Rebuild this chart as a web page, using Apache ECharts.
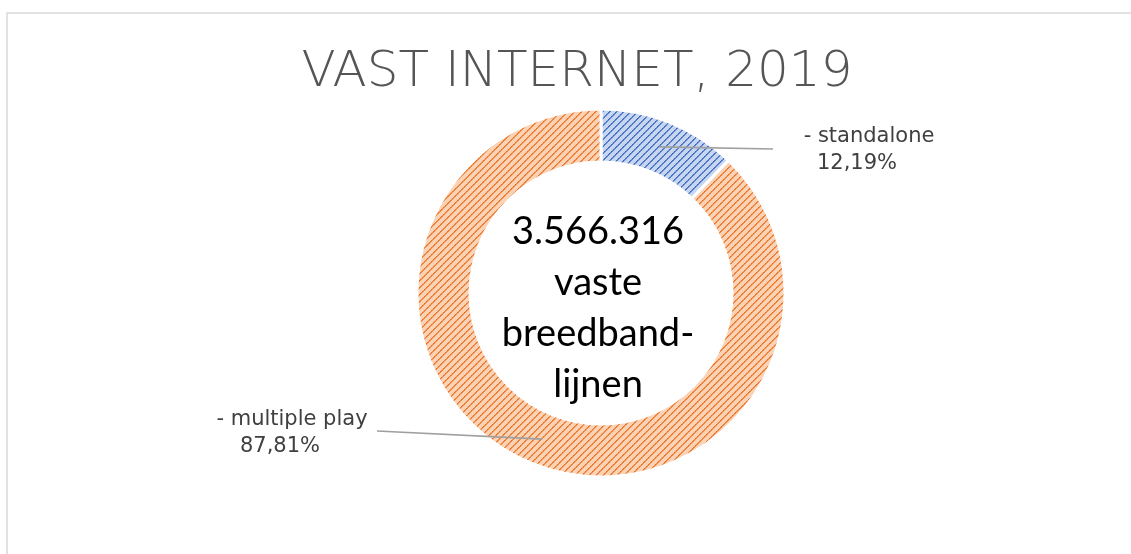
<!DOCTYPE html>
<html>
<head>
<meta charset="utf-8">
<title>Vast internet 2019</title>
<script src="https://cdn.jsdelivr.net/npm/echarts@6/dist/echarts.min.js"></script>
<style>
  html, body { margin: 0; padding: 0; background: #fff; }
  #chart { width: 1131px; height: 554px; }
</style>
</head>
<body>
<div id="chart"></div>
<script>
// data
var categories = ["standalone", "multiple play"];
var shares = [12.19, 87.81];
var centerLines = ["3.566.316", "vaste", "breedband-", "lijnen"];

// layout
var cx = 601, cy = 293, rIn = 131, rOut = 184;
var labelSpots = [
  { x: 869, y: 150, lineX: 773, lineY: 149 },
  { x: 292, y: 433, lineX: 377, lineY: 431 }
];

// diagonal hatch tile, like the excel "wide upward diagonal" fill
function hatch(bg, fg, mid) {
  var n = 7;
  var c = document.createElement("canvas");
  c.width = n;
  c.height = n;
  var g = c.getContext("2d");
  g.fillStyle = bg;
  g.fillRect(0, 0, n, n);
  for (var i = 0; i < n; i++) {
    g.fillStyle = mid;
    g.fillRect((i + 1) % n, n - 1 - i, 1, 1);
    g.fillStyle = i % 2 ? mid : fg;
    g.fillRect(i, n - 1 - i, 1, 1);
  }
  return c;
}

var fills = [
  { image: hatch("#c6d5f0", "#3a68c0", "#5f84cc"), repeat: "repeat" },
  { image: hatch("#fbd2b3", "#eb6f22", "#ef8e4c"), repeat: "repeat" }
];

var total = shares.reduce(function(a, b) { return a + b; }, 0);

// leader lines: from the middle of the ring at each slice's mid angle to the label
var leaders = shares.map(function(v, i) {
  var before = 0;
  for (var j = 0; j < i; j++) before += shares[j];
  var a = (before + v / 2) / total * 2 * Math.PI;
  var rm = (rIn + rOut) / 2;
  var L = labelSpots[i];
  return {
    type: "polyline",
    silent: true,
    z: 10,
    shape: { points: [[cx + rm * Math.sin(a), cy - rm * Math.cos(a)], [L.lineX, L.lineY]] },
    style: { stroke: "#9f9f9f", lineWidth: 1.6, fill: null }
  };
});

var chart = echarts.init(document.getElementById("chart"));

var option = {
  animation: false,
  title: {
    text: "VAST INTERNET, 2019",
    left: 572,
    top: 43,
    textAlign: "center",
    textStyle: {
      fontFamily: "DejaVu Sans",
      fontSize: 50,
      fontWeight: 300,
      color: "#555555"
    }
  },
  graphic: [
    {
      type: "rect",
      silent: true,
      z: -1,
      shape: { x: 7, y: 13, width: 1200, height: 600 },
      style: { fill: "none", stroke: "#d9d9d9", lineWidth: 1.5 }
    },
    {
      type: "text",
      silent: true,
      x: 598,
      y: 308,
      style: {
        text: centerLines.join("\n"),
        align: "center",
        verticalAlign: "middle",
        fontFamily: "Lato",
        fontSize: 38,
        lineHeight: 51,
        fill: "#000"
      }
    }
  ].concat(leaders),
  series: [
    {
      type: "pie",
      center: [cx, cy],
      radius: [rIn, rOut],
      startAngle: 90,
      clockwise: true,
      avoidLabelOverlap: false,
      emphasis: { disabled: true },
      itemStyle: { borderColor: "#fff", borderWidth: 3 },
      label: {
        show: true,
        position: "outside",
        formatter: function(p) {
          return "{n|- " + p.name + "}\n{v|" + p.value.toFixed(2).replace(".", ",") + "%}";
        },
        rich: {
          n: { fontFamily: "DejaVu Sans", fontSize: 21, color: "#404040", lineHeight: 27 },
          v: { fontFamily: "DejaVu Sans", fontSize: 21, color: "#404040", lineHeight: 27, padding: [0, 24, 0, 0] }
        }
      },
      labelLine: { show: false },
      labelLayout: function(p) {
        var L = labelSpots[p.dataIndex];
        return { x: L.x, y: L.y, align: "center", verticalAlign: "middle" };
      },
      data: categories.map(function(name, i) {
        return { name: name, value: shares[i], itemStyle: { color: fills[i] } };
      })
    }
  ]
};

chart.setOption(option);
</script>
</body>
</html>
